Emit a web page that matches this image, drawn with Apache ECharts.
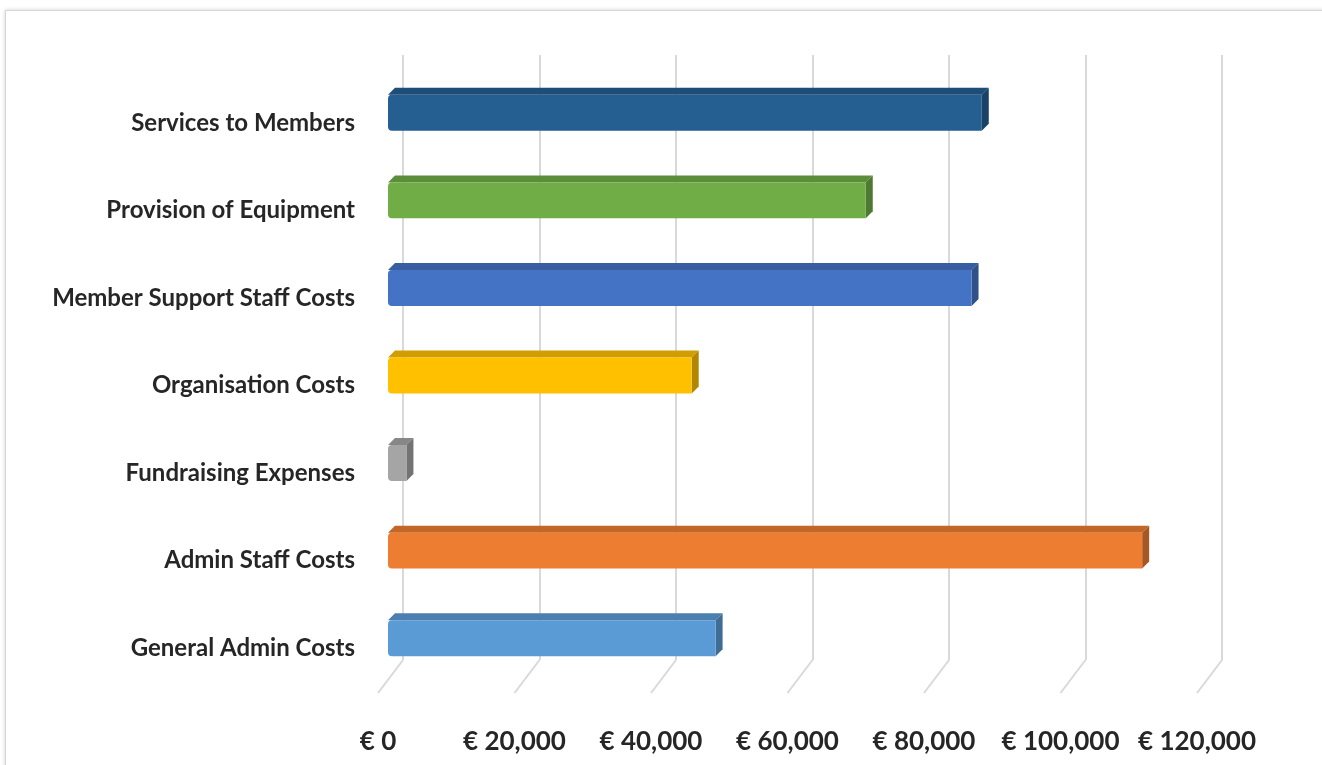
<!DOCTYPE html>
<html>
<head>
<meta charset="utf-8">
<script src="https://cdn.jsdelivr.net/npm/echarts@6/dist/echarts.min.js"></script>
<style>
  html, body { margin: 0; padding: 0; background: #fff; overflow: hidden; }
  .frame { position: absolute; left: 5px; top: 10px; width: 1360px; height: 800px;
           border: 1px solid #d6d6d6; box-shadow: 0 0 4px #d0d0d0; }
  #main { position: absolute; left: 0; top: 0; width: 1322px; height: 765px; }
</style>
</head>
<body>
<div class="frame"></div>
<div id="main"></div>
<script>
// 数据
var categories = ["Services to Members", "Provision of Equipment", "Member Support Staff Costs",
  "Organisation Costs", "Fundraising Expenses", "Admin Staff Costs", "General Admin Costs"];
var costs = [87000, 70000, 85500, 44500, 2700, 110500, 48000];
var barColors = ["#255e91", "#70ad47", "#4472c4", "#ffc000", "#a5a5a5", "#ed7d31", "#5b9bd5"];
var xTicks = [0, 20000, 40000, 60000, 80000, 100000, 120000];

var myChart = echarts.init(document.getElementById('main'));

var labelFont = 'Lato, "Open Sans", sans-serif';
var depth = 7;

// 颜色加深
var shade = function(hex, k) {
  var n = parseInt(hex.slice(1), 16);
  var r = Math.round(((n >> 16) & 255) * k);
  var g = Math.round(((n >> 8) & 255) * k);
  var b = Math.round((n & 255) * k);
  return 'rgb(' + r + ',' + g + ',' + b + ')';
};

// 伪3D柱子：正面 + 顶面 + 侧面
var renderBar = function(params, api) {
  var idx = api.value(0);
  var start = api.coord([0, idx]);
  var end = api.coord([api.value(1), idx]);
  var h = api.size([0, 1])[1] * 0.41;
  var y0 = start[1] - h / 2 - 10;
  var c = barColors[params.dataIndex];
  var top = shade(c, 0.82);
  var side = shade(c, 0.7);
  return {
    type: 'group',
    children: [{
      type: 'polygon',
      shape: { points: [[start[0], y0], [start[0] + depth, y0 - depth], [end[0] + depth, y0 - depth], [end[0], y0]] },
      style: { fill: top }
    }, {
      type: 'polygon',
      shape: { points: [[end[0], y0], [end[0] + depth, y0 - depth], [end[0] + depth, y0 + h - depth], [end[0], y0 + h]] },
      style: { fill: side }
    }, {
      type: 'rect',
      shape: { x: start[0], y: y0, width: end[0] - start[0], height: h, r: [4, 0, 0, 4] },
      style: { fill: c }
    }]
  };
};

// 地板上的斜线
var renderFloor = function(params, api) {
  var cs = params.coordSys;
  var x = api.coord([api.value(0), 0])[0];
  var bottom = cs.y + cs.height;
  return {
    type: 'polyline',
    shape: { points: [[x, bottom], [x - 25, bottom + 33]] },
    style: { stroke: '#d9d9d9', lineWidth: 2, fill: null }
  };
};

var option = {
  animation: false,
  grid: [
    { left: 378, width: 819, top: 79, height: 614 },
    { left: 388, width: 819, top: 79, height: 613 },
    { left: 403, width: 819, top: 55, height: 605 }
  ],
  xAxis: [{
    gridIndex: 0, type: 'value', min: 0, max: 120000, interval: 20000,
    axisLine: { show: false }, axisTick: { show: false }, splitLine: { show: false },
    axisLabel: {
      margin: 36, fontSize: 26, fontWeight: 'bold', color: '#262626', fontFamily: labelFont,
      formatter: function(v) { return '€ ' + v.toLocaleString('en-US'); }
    }
  }, {
    gridIndex: 1, type: 'value', min: 0, max: 120000, show: false
  }, {
    gridIndex: 2, type: 'value', min: 0, max: 120000, interval: 20000,
    axisLine: { show: false }, axisTick: { show: false }, axisLabel: { show: false },
    splitLine: { show: true, lineStyle: { color: '#d9d9d9', width: 2 } }
  }],
  yAxis: [{
    gridIndex: 0, type: 'value', show: false
  }, {
    gridIndex: 1, type: 'category', data: categories, inverse: true,
    axisLine: { show: false }, axisTick: { show: false },
    axisLabel: { margin: 33, fontSize: 24, fontWeight: 'bold', color: '#262626', fontFamily: labelFont }
  }, {
    gridIndex: 2, type: 'value', min: 0, max: 1, show: false
  }],
  series: [{
    type: 'custom',
    xAxisIndex: 2,
    yAxisIndex: 2,
    renderItem: renderFloor,
    data: xTicks.map(function(v) { return [v]; }),
    encode: { x: 0 },
    silent: true
  }, {
    type: 'custom',
    xAxisIndex: 1,
    yAxisIndex: 1,
    renderItem: renderBar,
    encode: { x: 1, y: 0 },
    data: costs.map(function(v, i) { return [i, v]; })
  }]
};

myChart.setOption(option);
</script>
</body>
</html>
